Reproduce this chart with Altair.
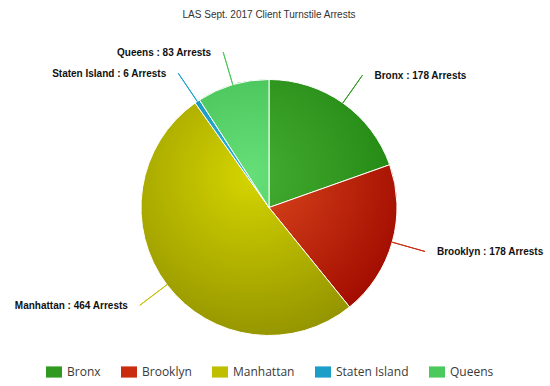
import math
import altair as alt
import pandas as pd

# ---- data ----
boroughs = ["Bronx", "Brooklyn", "Manhattan", "Staten Island", "Queens"]
arrests = [178, 178, 464, 6, 83]
order_idx = [0, 1, 2, 3, 4]
mid_colors = ["#2f9a1f", "#c92c0e", "#bfbf00", "#1b9ec8", "#4cc95c"]
light_colors = ["#46ad33", "#dc4a1e", "#d4d400", "#2cb6da", "#66df78"]
dark_colors = ["#1f8510", "#a20c00", "#949400", "#1282aa", "#3bb74b"]
title_text = "LAS Sept. 2017 Client Turnstile Arrests"

df = pd.DataFrame({"borough": boroughs, "arrests": arrests, "idx": order_idx})
df["label"] = df["borough"] + " : " + df["arrests"].astype(str) + " Arrests"

R = 128          # pie radius (px)
R_LABEL = 162    # connector end radius (px)

# radial gradient per slice (SVG pattern uses the slice bbox, square "slice" fit)
total = sum(arrests)
gradients = []
cum = 0
for v, lc, dc in zip(arrests, light_colors, dark_colors):
    a0 = cum / total * 2 * math.pi
    cum += v
    a1 = cum / total * 2 * math.pi
    pts = [(0.0, 0.0), (R * math.sin(a0), -R * math.cos(a0)), (R * math.sin(a1), -R * math.cos(a1))]
    for k in range(5):
        ang = k * math.pi / 2
        if a0 < ang < a1:
            pts.append((R * math.sin(ang), -R * math.cos(ang)))
    xs = [p[0] for p in pts]
    ys = [p[1] for p in pts]
    x0, x1, y0, y1 = min(xs), max(xs), min(ys), max(ys)
    w, h = x1 - x0, y1 - y0
    s = max(w, h)
    sx = x0 + (w - s) / 2
    sy = y0 + (h - s) / 2
    gcx, gcy = -0.15 * R, -0.25 * R
    gx = (gcx - sx) / s
    gy = (gcy - sy) / s
    gr = 1.3 * R / s
    gradients.append({
        "gradient": "radial",
        "x1": gx, "y1": gy, "r1": 0,
        "x2": gx, "y2": gy, "r2": gr,
        "stops": [{"offset": 0, "color": lc}, {"offset": 1, "color": dc}],
    })

base = alt.Chart(df).transform_joinaggregate(
    total="sum(arrests)"
).transform_window(
    cum="sum(arrests)", sort=[alt.SortField("idx")], frame=[None, 0]
).transform_calculate(
    a1="datum.cum / datum.total * 2 * PI",
    a0="(datum.cum - datum.arrests) / datum.total * 2 * PI",
).transform_calculate(
    mid="(datum.a0 + datum.a1) / 2"
)

theta = alt.Theta("a0:Q", scale=None, stack=None)
theta2 = alt.Theta2("a1")

pie_base = base.mark_arc(radius=R, stroke="#ffffff", strokeWidth=1).encode(
    theta=theta,
    theta2=theta2,
    color=alt.Color(
        "borough:N",
        scale=alt.Scale(domain=boroughs, range=mid_colors),
        legend=alt.Legend(
            title=None,
            orient="none",
            direction="horizontal",
            legendX=46,
            legendY=334,
            symbolType="M-1,-0.7H1V0.7H-1Z",
            symbolSize=256,
            symbolStrokeWidth=0,
            labelFont="Open Sans",
            labelFontSize=12,
            labelColor="#3a3a3a",
            labelOffset=5,
            columnPadding=20,
        ),
    ),
)

pie_grad = base.mark_arc(radius=R, stroke="#ffffff", strokeWidth=1).encode(
    theta=theta,
    theta2=theta2,
    fill=alt.value(
        mid_colors[0],
        condition=[
            {"test": f"datum.borough === '{b}'", "value": g}
            for b, g in zip(boroughs, gradients)
        ],
    ),
)

connectors = base.mark_arc(radius=R_LABEL, radius2=R, fillOpacity=0, strokeWidth=1).encode(
    theta=alt.Theta("mid:Q", scale=None, stack=None),
    theta2=alt.Theta2("mid"),
    stroke=alt.Stroke("borough:N", scale=alt.Scale(domain=boroughs, range=mid_colors), legend=None),
)

label_style = dict(radius=R_LABEL, baseline="middle", font="Liberation Sans",
                   fontWeight="bold", fontSize=10, color="#111111", dy=1)

labels_right = base.transform_filter("datum.mid < PI").mark_text(
    align="left", dx=12, **label_style
).encode(theta=alt.Theta("mid:Q", scale=None, stack=None), text="label:N")

labels_left = base.transform_filter("datum.mid >= PI").mark_text(
    align="right", dx=-12, **label_style
).encode(theta=alt.Theta("mid:Q", scale=None, stack=None), text="label:N")

chart = alt.layer(pie_base, pie_grad, connectors, labels_right, labels_left).properties(
    width=538,
    height=355,
    padding={"left": 0, "top": 30, "right": 12, "bottom": 1},
    autosize=alt.AutoSizeParams(type="none"),
    background="#ffffff",
    title=alt.Title(
        title_text,
        fontSize=10,
        font="Liberation Sans",
        fontWeight="normal",
        color="#333333",
        anchor="middle",
        frame="group",
        offset=10,
    ),
).configure_view(stroke=None)

chart.save("out.html", embed_options={"renderer": "svg", "actions": False})
